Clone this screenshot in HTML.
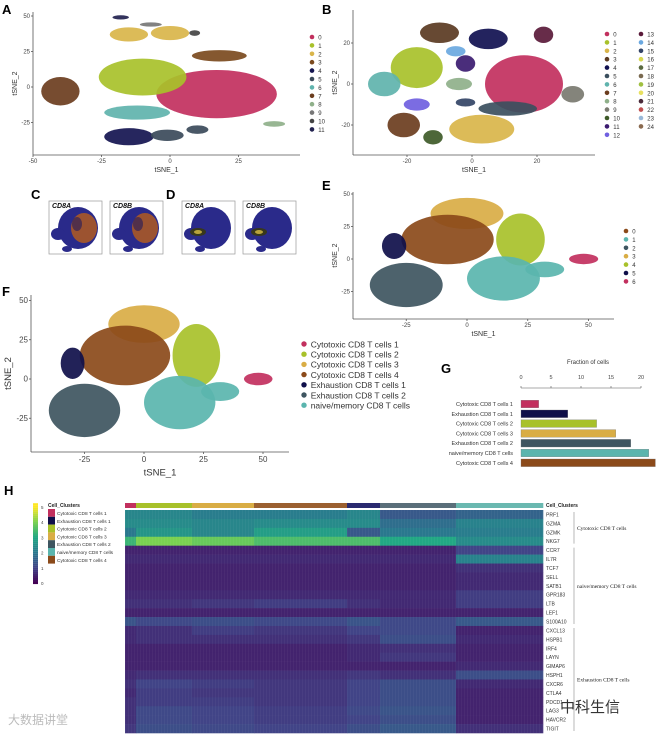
<!DOCTYPE html>
<html><head><meta charset="utf-8"><style>
html,body{margin:0;padding:0;background:#fff;}
svg{display:block;font-family:"Liberation Sans","Noto Sans CJK SC",sans-serif;}
</style></head><body>
<svg id="fig" width="656" height="735" viewBox="0 0 656 735" xmlns="http://www.w3.org/2000/svg">
<g id="root"></g>
</svg>
<script>
// ---------- data ----------
const aLabels=['0','1','2','3','4','5','6','7','8','9','10','11'];
const aColors=['#c2305e','#a8c12a','#d9b54a','#7b4a1e','#141450','#3b4a5a','#5fb3ad','#6b3d1e','#8fb08a','#777777','#444444','#22224f'];
const aClusterId=[0,1,2,2,3,7,6,4,5,5,8,11,9,10];
const aCx=[17,-10,-15,0,18,-40,-12,-15,-1,10,38,-18,-7,9];
const aCy=[-5,7,37,38,22,-3,-18,-35,-34,-30,-26,49,44,38];
const aRx=[22,16,7,7,10,7,12,9,6,4,4,3,4,2];
const aRy=[17,13,5,5,4,10,5,6,4,3,2,1.5,1.5,2];

const bLabels=['0','1','2','3','4','5','6','7','8','9','10','11','12','13','14','15','16','17','18','19','20','21','22','23','24'];
const bColors=['#c2305e','#a8c12a','#d9b54a','#5a3a22','#101050','#3b4f5e','#5fb3ad','#6b3d1e','#8fb08a','#7a7a70','#3e5a28','#3b1b70','#7060e0','#5a1a3a','#6aa8e0','#334466','#d8d850','#5a6a40','#7a6a50','#a0c040','#e8e060','#4a2a3a','#c05050','#9ab8d8','#8a6a50'];
const bClusterId=[0,1,2,3,4,6,7,8,9,10,5,13,14,11,12,15];
const bCx=[16,-17,3,-10,5,-27,-21,-4,31,-12,11,22,-5,-2,-17,-2];
const bCy=[0,8,-22,25,22,0,-20,0,-5,-26,-12,24,16,10,-10,-9];
const bRx=[12,8,10,6,6,5,5,4,3.5,3,9,3,3,3,4,3];
const bRy=[14,10,7,5,5,6,6,3,4,3.5,3.5,4,2.5,4,3,2];

const fLabels=['Cytotoxic CD8  T cells 1','Cytotoxic CD8  T cells 2','Cytotoxic CD8  T cells 3','Cytotoxic CD8  T cells 4','Exhaustion CD8 T cells 1','Exhaustion CD8 T cells 2','naive/memory CD8 T cells'];
const fColors=['#c2305e','#a8c12a','#d9ad45','#8b4a1a','#0f0f4a','#3e5560','#5ab5ae'];
const eLabels=['0','1','2','3','4','5','6'];
const eColors=['#8b4a1a','#5ab5ae','#3e5560','#d9ad45','#a8c12a','#0f0f4a','#c2305e'];
const fClusterId=[2,1,6,6,5,3,4,0];
const fCx=[0,22,15,32,-25,-8,-30,48];
const fCy=[35,15,-15,-8,-20,15,10,0];
const fRx=[15,10,15,8,15,19,5,6];
const fRy=[12,20,17,6,17,19,10,4];

const gCategories=['Cytotoxic CD8  T cells 1','Exhaustion CD8 T cells 1','Cytotoxic CD8  T cells 2','Cytotoxic CD8  T cells 3','Exhaustion CD8 T cells 2','naive/memory CD8 T cells','Cytotoxic CD8  T cells 4'];
const gValues=[2.95,7.8,12.6,15.8,18.3,21.3,22.4];
const gColors=['#c2305e','#0f0f4a','#a8c12a','#d9ad45','#3e5560','#5ab5ae','#8b4a1a'];
const gTicks=[0,5,10,15,20];

const hGenes=['PRF1','GZMA','GZMK','NKG7','CCR7','IL7R','TCF7','SELL','SATB1','GPR183','LTB','LEF1','S100A10','CXCL13','HSPB1','IRF4','LAYN','GIMAP6','HSPH1','CXCR6','CTLA4','PDCD1','LAG3','HAVCR2','TIGIT'];
const hClusters=['Cytotoxic CD8  T cells 1','Cytotoxic CD8  T cells 2','Cytotoxic CD8  T cells 3','Cytotoxic CD8  T cells 4','Exhaustion CD8 T cells 1','Exhaustion CD8 T cells 2','naive/memory CD8 T cells'];
const hClusterColors=['#c2305e','#a8c12a','#d9ad45','#9b6030','#2a2a70','#5a6f7a','#6ab8b0'];
const hClusterSizes=[11,56,62,93,33,76,87];
const hValues=[
[2.3,2.3,2.1,2.1,2.3,1.4,1.6],
[2.4,2.4,2.3,2.4,2.4,1.8,2.2],
[2.0,2.6,2.3,2.8,1.4,2.0,2.1],
[3.3,4.0,3.8,3.5,3.5,3.0,2.4],
[0.5,0.5,0.5,0.5,0.5,0.5,1.0],
[0.6,0.6,0.6,0.6,0.6,0.6,2.2],
[0.5,0.5,0.5,0.5,0.5,0.5,0.7],
[0.5,0.5,0.5,0.5,0.5,0.5,0.6],
[0.5,0.5,0.5,0.5,0.5,0.5,0.6],
[0.6,0.6,0.6,0.6,0.6,0.6,0.9],
[0.7,0.7,0.8,0.9,0.7,0.6,0.9],
[0.5,0.5,0.5,0.5,0.5,0.5,0.5],
[1.3,1.1,1.2,1.1,1.3,1.1,1.4],
[0.6,0.7,0.9,0.8,1.0,1.1,0.5],
[0.6,0.7,0.7,0.7,0.8,1.2,0.6],
[0.5,0.5,0.5,0.5,0.6,0.7,0.5],
[0.5,0.5,0.5,0.5,0.6,0.8,0.5],
[0.5,0.5,0.5,0.5,0.5,0.5,0.6],
[0.6,0.7,0.7,0.7,0.8,0.7,1.2],
[0.7,1.0,0.9,0.8,1.0,1.2,0.6],
[0.6,0.9,0.8,0.8,1.0,1.2,0.5],
[0.7,0.9,0.9,0.8,1.0,1.2,0.5],
[0.7,1.1,1.0,0.9,1.1,1.3,0.5],
[0.7,1.1,1.0,0.9,1.0,1.2,0.5],
[0.8,1.2,1.1,1.0,1.2,1.4,0.7]];
const hScaleTicks=[0,1,2,3,4,5];

// ---------- helpers ----------
const NS='http://www.w3.org/2000/svg';
const root=document.getElementById('root');
function mk(tag,attrs,parent,text){const e=document.createElementNS(NS,tag);for(const k in attrs)e.setAttribute(k,attrs[k]);if(text!==undefined)e.textContent=text;(parent||root).appendChild(e);return e;}
function viridis(v){const s=[[68,1,84],[65,68,135],[42,120,142],[34,168,132],[122,209,81],[253,231,37]];let t=Math.max(0,Math.min(1,v/5))*5;let i=Math.min(4,Math.floor(t));let f=t-i;const c=s[i].map((a,j)=>Math.round(a+(s[i+1][j]-a)*f));return `rgb(${c[0]},${c[1]},${c[2]})`;}

function panelLabel(txt,x,y,name){const t=mk('text',{x:x,y:y,'font-size':13,'font-weight':'bold',fill:'#000'},root,txt);

}

function scatter(cfg){
  const g=mk('g',{});
  
  
  const X=v=>cfg.x0+v*cfg.sx, Y=v=>cfg.y0-v*cfg.sy;
  for(let i=0;i<cfg.cx.length;i++){
    const col=cfg.colors[cfg.ids[i]];
    const e=mk('ellipse',{cx:X(cfg.cx[i]),cy:Y(cfg.cy[i]),rx:cfg.rx[i]*cfg.sx,ry:cfg.ry[i]*cfg.sy,fill:col,opacity:0.92},g);
    
    
  }
  const ax=mk('g',{stroke:'#555','stroke-width':0.8},g);
  mk('line',{x1:cfg.axL,y1:cfg.axB,x2:cfg.axR,y2:cfg.axB},ax);
  mk('line',{x1:cfg.axL,y1:cfg.axT,x2:cfg.axL,y2:cfg.axB},ax);
  cfg.xt.forEach(v=>{mk('line',{x1:X(v),y1:cfg.axB,x2:X(v),y2:cfg.axB+2},ax);
    const t=mk('text',{x:X(v),y:cfg.axB+cfg.tf+2,'font-size':cfg.tf,'text-anchor':'middle',fill:'#444',stroke:'none'},g,v);
    
    });
  cfg.yt.forEach(v=>{mk('line',{x1:cfg.axL-2,y1:Y(v),x2:cfg.axL,y2:Y(v)},ax);
    const t=mk('text',{x:cfg.axL-3,y:Y(v)+cfg.tf/3,'font-size':cfg.tf,'text-anchor':'end',fill:'#444'},g,v);
    
    });
  const xt=mk('text',{x:(cfg.axL+cfg.axR)/2,y:cfg.axB+cfg.tf*2+cfg.af-2,'font-size':cfg.af,'text-anchor':'middle',fill:'#333'},g,'tSNE_1');
  
  
  const yx=cfg.axL-cfg.tf*2-4, yy=(cfg.axT+cfg.axB)/2;
  const yt=mk('text',{x:yx,y:yy,'font-size':cfg.af,'text-anchor':'middle',fill:'#333',transform:`rotate(-90 ${yx} ${yy})`},g,'tSNE_2');
  
  
  // legend
  const lcw=cfg.lcw||0;
  cfg.labels.forEach((l,i)=>{
    const col=cfg.legCols?Math.floor(i/cfg.legCols):0, row=cfg.legCols?i%cfg.legCols:i;
    const lx=cfg.lx+col*lcw, ly=cfg.ly+row*cfg.lstep;
    const lg=mk('g',{},g);
    
    
    mk('circle',{cx:lx,cy:ly,r:cfg.lr,fill:cfg.colors[i]},lg);
    mk('text',{x:lx+cfg.lr+4,y:ly+cfg.lf/3+0.5,'font-size':cfg.lf,fill:'#333'},lg,l);
  });
}

// ---------- Panel A ----------
panelLabel('A',2,14,'panel-a-label');
scatter({name:'tsne-panel-a',x0:170,y0:87,sx:2.74,sy:1.42,cx:aCx,cy:aCy,rx:aRx,ry:aRy,ids:aClusterId,colors:aColors,labels:aLabels,
 axL:33,axR:300,axT:12,axB:155,xt:[-50,-25,0,25],yt:[50,25,0,-25],tf:6,af:7,lx:312,ly:37,lstep:8.4,lr:2.3,lf:6});

// ---------- Panel B ----------
panelLabel('B',322,14,'panel-b-label');
scatter({name:'tsne-panel-b',x0:472,y0:84,sx:3.25,sy:2.05,cx:bCx,cy:bCy,rx:bRx,ry:bRy,ids:bClusterId,colors:bColors,labels:bLabels,
 axL:353,axR:595,axT:10,axB:155,xt:[-20,0,20],yt:[20,0,-20],tf:6,af:7,lx:607,ly:34,lstep:8.4,lr:2.3,lf:6,legCols:13,lcw:34});

// ---------- Panels C/D ----------
panelLabel('C',31,199,'panel-c-label');
panelLabel('D',166,199,'panel-d-label');
const cdBoxes=[[49,'CD8A',true],[110,'CD8B',true],[182,'CD8A',false],[243,'CD8B',false]];
cdBoxes.forEach((b,i)=>{
  const g=mk('g',{});
  
  
  mk('rect',{x:b[0],y:201,width:53,height:53,fill:'#fff',stroke:'#999','stroke-width':0.7},g);
  mk('ellipse',{cx:b[0]+29,cy:228,rx:20,ry:21,fill:'#2a2a8a'},g);
  mk('ellipse',{cx:b[0]+9,cy:234,rx:7,ry:6,fill:'#2a2a8a'},g);
  mk('ellipse',{cx:b[0]+18,cy:249,rx:5,ry:3,fill:'#2a2a8a'},g);
  if(b[2]){mk('ellipse',{cx:b[0]+35,cy:228,rx:13,ry:15,fill:'#b05a20',opacity:0.85},g);
    mk('ellipse',{cx:b[0]+28,cy:224,rx:5,ry:7,fill:'#332255',opacity:0.7},g);}
  else{mk('ellipse',{cx:b[0]+16,cy:232,rx:8,ry:4,fill:'#3a3a10',opacity:0.9},g);
    mk('ellipse',{cx:b[0]+16,cy:232,rx:4,ry:2,fill:'#c8b040',opacity:0.9},g);}
  mk('text',{x:b[0]+3,y:208,'font-size':7,'font-style':'italic','font-weight':'bold',fill:'#111'},g,b[1]);
});

// ---------- Panel E ----------
panelLabel('E',322,190,'panel-e-label');
scatter({name:'tsne-panel-e',x0:467,y0:259,sx:2.43,sy:1.3,cx:fCx,cy:fCy,rx:fRx,ry:fRy,ids:fClusterId.map(i=>[6,4,3,0,5,2,1][i]),colors:eColors,labels:eLabels,
 axL:353,axR:614,axT:192,axB:319,xt:[-25,0,25,50],yt:[50,25,0,-25],tf:6,af:7,lx:626,ly:231,lstep:8.4,lr:2.3,lf:6});

// ---------- Panel F ----------
panelLabel('F',2,296,'panel-f-label');
scatter({name:'tsne-panel-f',x0:144,y0:379,sx:2.38,sy:1.57,cx:fCx,cy:fCy,rx:fRx,ry:fRy,ids:fClusterId,colors:fColors,labels:fLabels,
 axL:31,axR:289,axT:295,axB:452,xt:[-25,0,25,50],yt:[50,25,0,-25],tf:8,af:9.5,lx:304,ly:344,lstep:10.2,lr:2.7,lf:8.5});

// ---------- Panel G ----------
panelLabel('G',441,373,'panel-g-label');
(function(){
  const g=mk('g',{});
  
  
  const x=v=>521+v*6, y0=404, step=9.8, bh=7.6;
  const t=mk('text',{x:588,y:364,'font-size':6,'text-anchor':'middle',fill:'#333'},g,'Fraction of cells');
  
  
  mk('line',{x1:x(0),y1:388,x2:x(20),y2:388,stroke:'#555','stroke-width':0.6},g);
  gTicks.forEach(v=>{mk('line',{x1:x(v),y1:386,x2:x(v),y2:388,stroke:'#555','stroke-width':0.6},g);
    const tl=mk('text',{x:x(v),y:379,'font-size':5.5,'text-anchor':'middle',fill:'#444'},g,v);
    
    });
  gCategories.forEach((c,i)=>{
    const cy=y0+i*step;
    const r=mk('rect',{x:x(0),y:cy-bh/2,width:gValues[i]*6,height:bh,fill:gColors[i],stroke:'#777','stroke-width':0.3},g);
    
    
    const l=mk('text',{x:513,y:cy+2,'font-size':5.5,'text-anchor':'end',fill:'#333'},g,c);
    
    
  });
})();

// ---------- Panel H ----------
panelLabel('H',4,495,'panel-h-label');
(function(){
  const g=mk('g',{});
  
  
  const x0=125,x1=543,top=510,bottom=733;
  const total=hClusterSizes.reduce((a,b)=>a+b,0);
  const rowH=(bottom-top)/hGenes.length;
  let cx=x0;
  hClusterSizes.forEach((s,ci)=>{
    const w=s/total*(x1-x0);
    const bar=mk('rect',{x:cx,y:503,width:w+0.3,height:5,fill:hClusterColors[ci]},g);
    
    
    hGenes.forEach((gn,ri)=>{
      const c=mk('rect',{x:cx,y:top+ri*rowH,width:w+0.3,height:rowH+0.3,fill:viridis(hValues[ri][ci])},g);
      
      
    });
    cx+=w;
  });
  for(let xx=x0;xx<x1;xx+=3){mk('rect',{x:xx,y:top,width:1,height:bottom-top,fill:'#fff',opacity:0.04},g);}
  hGenes.forEach((gn,ri)=>{
    const t=mk('text',{x:546,y:top+ri*rowH+rowH/2+2,'font-size':5,fill:'#333'},g,gn);
    
    
  });
  const ct=mk('text',{x:546,y:507,'font-size':5,'font-weight':'bold',fill:'#222'},g,'Cell_Clusters');
  
  
  const groups=[[0,3,'Cytotoxic CD8  T cells'],[4,12,'naive/memory CD8 T cells'],[13,24,'Exhaustion CD8 T cells']];
  groups.forEach(gr=>{
    const ya=top+gr[0]*rowH+2, yb=top+(gr[1]+1)*rowH-2;
    mk('line',{x1:574,y1:ya,x2:574,y2:yb,stroke:'#888','stroke-width':0.6},g);
    const t=mk('text',{x:577,y:(ya+yb)/2+2,'font-size':5.5,'font-family':'Liberation Serif, serif',fill:'#222'},g,gr[2]);
    
    
  });
  for(let i=0;i<40;i++){mk('rect',{x:33,y:584-(i+1)*2.02,width:5,height:2.1,fill:viridis(i/40*5.3)},g);}
  hScaleTicks.forEach(v=>{const t=mk('text',{x:41,y:584-v*15.2+1,'font-size':4.5,fill:'#444'},g,v);
    
    });
  const lt=mk('text',{x:48,y:507,'font-size':5,'font-weight':'bold',fill:'#222'},g,'Cell_Clusters');
  
  
  const legOrder=[0,4,1,2,5,6,3];
  legOrder.forEach((ci,i)=>{
    const lg=mk('g',{},g);
    
    
    mk('rect',{x:48,y:509+i*7.8,width:7,height:7.8,fill:['#c2305e','#a8c12a','#d9ad45','#8b4a1a','#0f0f4a','#3e5560','#5ab5ae'][ci]},lg);
    mk('text',{x:57,y:515+i*7.8,'font-size':4.8,fill:'#333'},lg,hClusters[ci]);
  });
})();

const w1=mk('text',{x:8,y:724,'font-size':12,fill:'#bbb'},root,'大数据讲堂');


const w2=mk('text',{x:560,y:712,'font-size':15,fill:'#333'},root,'中科生信');


</script>
</body></html>
